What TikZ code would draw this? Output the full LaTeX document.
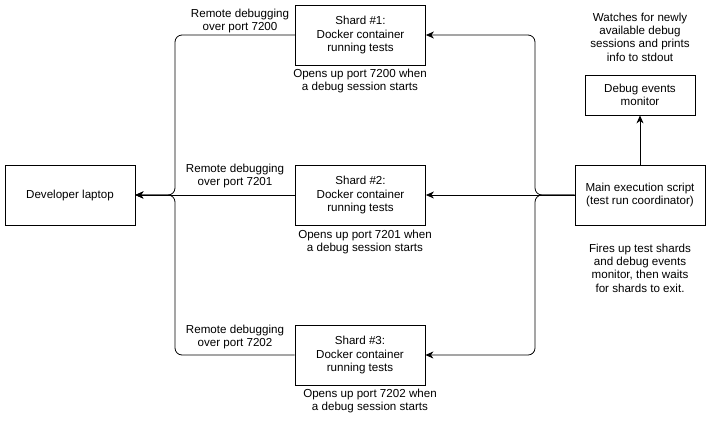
\documentclass[tikz,border=0pt]{standalone}
\usepackage{fontspec}
\setmainfont{Liberation Sans}
\usetikzlibrary{arrows.meta}

\begin{document}
\begin{tikzpicture}[x=1pt,y=-1pt,line width=0.8pt,
  every node/.style={font=\fontsize{11.6}{13.4}\selectfont, align=center, inner sep=0pt},
  box/.style={draw, minimum width=130pt, minimum height=60pt},
  arr/.style={-{Stealth[length=8pt,width=7pt,inset=2.5pt]}, rounded corners=7pt}]
\useasboundingbox (0,0) rectangle (711,421);

\node [box] (laptop) at (70,195) {Developer laptop};
\node [box] (s1) at (360.5,35) {Shard \#1:\\Docker container\\running tests};
\node [box] (s2) at (360.5,195) {Shard \#2:\\Docker container\\running tests};
\node [box] (s3) at (360,355) {Shard \#3:\\Docker container\\running tests};
\node [box] (main) at (640,195) {Main execution script\\(test run coordinator)};
\node [box, minimum width=110pt, minimum height=40pt] (mon) at (640,95) {Debug events\\monitor};

\coordinate (jl) at (175,195);
\coordinate (jr) at (535,195);

\draw [arr, {Stealth[length=8pt,width=7pt,inset=2.5pt]}-] (laptop.east) -| (jl |- s1.west) -- (s1.west);
\draw [arr, {Stealth[length=8pt,width=7pt,inset=2.5pt]}-] (laptop.east) -- (s2.west);
\draw [arr, {Stealth[length=8pt,width=7pt,inset=2.5pt]}-] (laptop.east) -| (jl |- s3.west) -- (s3.west);

\draw [arr] (main.west) -| (jr |- s1.east) -- (s1.east);
\draw [arr] (main.west) -- (s2.east);
\draw [arr] (main.west) -| (jr |- s3.east) -- (s3.east);
\draw [arr] (main.north) -- (mon.south);

\node (r1) at (240,21) {Remote debugging\\over port 7200};
\node (r2) at (235,176) {Remote debugging\\over port 7201};
\node (r3) at (235,337) {Remote debugging\\over port 7202};
\node (o1) at (360,81) {Opens up port 7200 when\\a debug session starts};
\node (o2) at (365,242) {Opens up port 7201 when\\a debug session starts};
\node (o3) at (370,401) {Opens up port 7202 when\\a debug session starts};
\node (watch) at (640,37) {Watches for newly\\available debug\\sessions and prints\\info to stdout};
\node (fires) at (640,268) {Fires up test shards\\and debug events\\monitor, then waits\\for shards to exit.};

\end{tikzpicture}
\end{document}
